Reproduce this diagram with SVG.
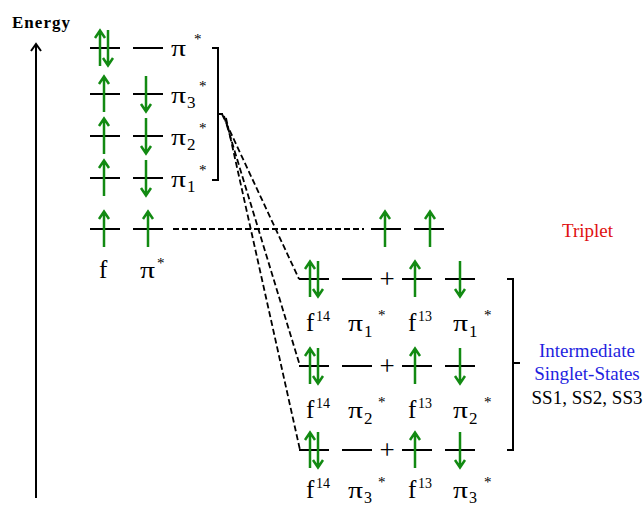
<svg xmlns="http://www.w3.org/2000/svg" width="644" height="507" viewBox="0 0 644 507" font-family="'Liberation Serif','Times New Roman',serif">
<style>
.lv{stroke:#000;stroke-width:2;fill:none}
.ar{stroke:#128a12;stroke-width:2.5;fill:none}
.br{stroke:#000;stroke-width:2;fill:none}
.dl{stroke:#000;stroke-width:1.8;fill:none;stroke-dasharray:6,3}
text{font-family:"Liberation Serif","Times New Roman",serif;fill:#000}
.m{font-size:25px}
.p{font-size:24px}
.s{font-size:17px}
.u{font-size:14px}
.st{font-size:15px}
</style>
<defs>
<g id="up"><path class="ar" d="M0,18 V-17 M-5,-10 L0,-17.5 L5,-10"/></g>
<g id="dn"><path class="ar" d="M0,-18 V17 M-5,10 L0,17.5 L5,10"/></g>
<path id="lvl" class="lv" d="M0,0 H30"/>
</defs>
<rect width="644" height="507" fill="#fff"/>

<g id="energy-axis">
<text x="12" y="28" style="font-size:17px;font-weight:bold" textLength="58">Energy</text>
<path d="M36,498 V44 M31,51 L36,44 L41,51" stroke="#000" stroke-width="2" fill="none"/>
</g>

<g id="connectors">
<path class="dl" d="M173,229 H364"/>
<path class="dl" d="M222,114 L299,279"/>
<path class="dl" d="M224,116 L300,366"/>
<path class="dl" d="M226,118 L300,450"/>
</g>

<g id="level-pi-top">
<use href="#lvl" x="90" y="48"/><use href="#lvl" x="133" y="48"/>
<use href="#up" x="100" y="48"/><use href="#dn" x="108" y="48"/>
<text class="p" x="171" y="56" textLength="15" lengthAdjust="spacingAndGlyphs">π</text><text class="st" x="194" y="44">*</text>
</g>
<g id="level-pi3">
<use href="#lvl" x="90" y="94"/><use href="#lvl" x="133" y="94"/>
<use href="#up" x="104" y="94"/><use href="#dn" x="146" y="94"/>
<text class="p" x="171" y="103" textLength="15" lengthAdjust="spacingAndGlyphs">π</text><text class="s" x="187" y="108">3</text><text class="st" x="199" y="91">*</text>
</g>
<g id="level-pi2">
<use href="#lvl" x="90" y="136"/><use href="#lvl" x="133" y="136"/>
<use href="#up" x="104" y="136"/><use href="#dn" x="146" y="136"/>
<text class="p" x="171" y="145" textLength="15" lengthAdjust="spacingAndGlyphs">π</text><text class="s" x="187" y="150">2</text><text class="st" x="199" y="133">*</text>
</g>
<g id="level-pi1">
<use href="#lvl" x="90" y="178"/><use href="#lvl" x="133" y="178"/>
<use href="#up" x="104" y="178"/><use href="#dn" x="146" y="178"/>
<text class="p" x="171" y="187" textLength="15" lengthAdjust="spacingAndGlyphs">π</text><text class="s" x="187" y="192">1</text><text class="st" x="199" y="175">*</text>
</g>
<g id="level-ground">
<use href="#lvl" x="90" y="229"/><use href="#lvl" x="133" y="229"/>
<use href="#up" x="104" y="229"/><use href="#up" x="148" y="229"/>
<text class="m" x="99" y="278">f</text>
<text class="p" x="140" y="278" textLength="15" lengthAdjust="spacingAndGlyphs">π</text><text class="st" x="157" y="268">*</text>
</g>

<g id="bracket-left">
<path class="br" d="M212,48 H218 V180 H212 M218,114 H223"/>
</g>

<g id="triplet">
<use href="#lvl" x="371" y="229"/><use href="#lvl" x="414" y="229"/>
<use href="#up" x="385" y="229"/><use href="#up" x="430" y="229"/>
<text x="562" y="237" style="font-size:19px;fill:#e01010">Triplet</text>
</g>

<g id="singlet-ss1">
<use href="#lvl" x="299" y="279"/><use href="#lvl" x="342" y="279"/>
<use href="#lvl" x="402" y="279"/><use href="#lvl" x="445" y="279"/>
<use href="#up" x="310" y="279"/><use href="#dn" x="318" y="279"/>
<use href="#up" x="415" y="279"/><use href="#dn" x="460" y="279"/>
<text x="387" y="288" text-anchor="middle" style="font-size:27px">+</text>
<text class="m" x="306" y="331">f</text><text class="u" x="316" y="321">14</text>
<text class="p" x="348" y="331" textLength="15" lengthAdjust="spacingAndGlyphs">π</text><text class="s" x="364" y="337">1</text><text class="st" x="378" y="320">*</text>
<text class="m" x="408" y="331">f</text><text class="u" x="418" y="321">13</text>
<text class="p" x="453" y="331" textLength="15" lengthAdjust="spacingAndGlyphs">π</text><text class="s" x="469" y="337">1</text><text class="st" x="484" y="320">*</text>
</g>
<g id="singlet-ss2">
<use href="#lvl" x="299" y="366"/><use href="#lvl" x="342" y="366"/>
<use href="#lvl" x="402" y="366"/><use href="#lvl" x="445" y="366"/>
<use href="#up" x="310" y="366"/><use href="#dn" x="318" y="366"/>
<use href="#up" x="415" y="366"/><use href="#dn" x="460" y="366"/>
<text x="387" y="375" text-anchor="middle" style="font-size:27px">+</text>
<text class="m" x="306" y="418">f</text><text class="u" x="316" y="408">14</text>
<text class="p" x="348" y="418" textLength="15" lengthAdjust="spacingAndGlyphs">π</text><text class="s" x="364" y="424">2</text><text class="st" x="378" y="407">*</text>
<text class="m" x="408" y="418">f</text><text class="u" x="418" y="408">13</text>
<text class="p" x="453" y="418" textLength="15" lengthAdjust="spacingAndGlyphs">π</text><text class="s" x="469" y="424">2</text><text class="st" x="484" y="407">*</text>
</g>
<g id="singlet-ss3">
<use href="#lvl" x="299" y="450"/><use href="#lvl" x="342" y="450"/>
<use href="#lvl" x="402" y="450"/><use href="#lvl" x="445" y="450"/>
<use href="#up" x="310" y="450"/><use href="#dn" x="318" y="450"/>
<use href="#up" x="415" y="450"/><use href="#dn" x="460" y="450"/>
<text x="387" y="459" text-anchor="middle" style="font-size:27px">+</text>
<text class="m" x="306" y="498">f</text><text class="u" x="316" y="488">14</text>
<text class="p" x="348" y="498" textLength="15" lengthAdjust="spacingAndGlyphs">π</text><text class="s" x="364" y="503" style="font-size:16px">3</text><text class="st" x="378" y="487">*</text>
<text class="m" x="408" y="498">f</text><text class="u" x="418" y="488">13</text>
<text class="p" x="453" y="498" textLength="15" lengthAdjust="spacingAndGlyphs">π</text><text class="s" x="469" y="503" style="font-size:16px">3</text><text class="st" x="484" y="487">*</text>
</g>

<g id="bracket-right">
<path class="br" d="M507,279 H513 V450 H507 M513,363 H520"/>
</g>

<g id="singlet-label">
<text x="587" y="357" text-anchor="middle" style="font-size:19px;fill:#1f1fe0">Intermediate</text>
<text x="587" y="380" text-anchor="middle" style="font-size:19px;fill:#1f1fe0">Singlet-States</text>
<text x="587" y="404" text-anchor="middle" style="font-size:19px">SS1, SS2, SS3</text>
</g>
</svg>
